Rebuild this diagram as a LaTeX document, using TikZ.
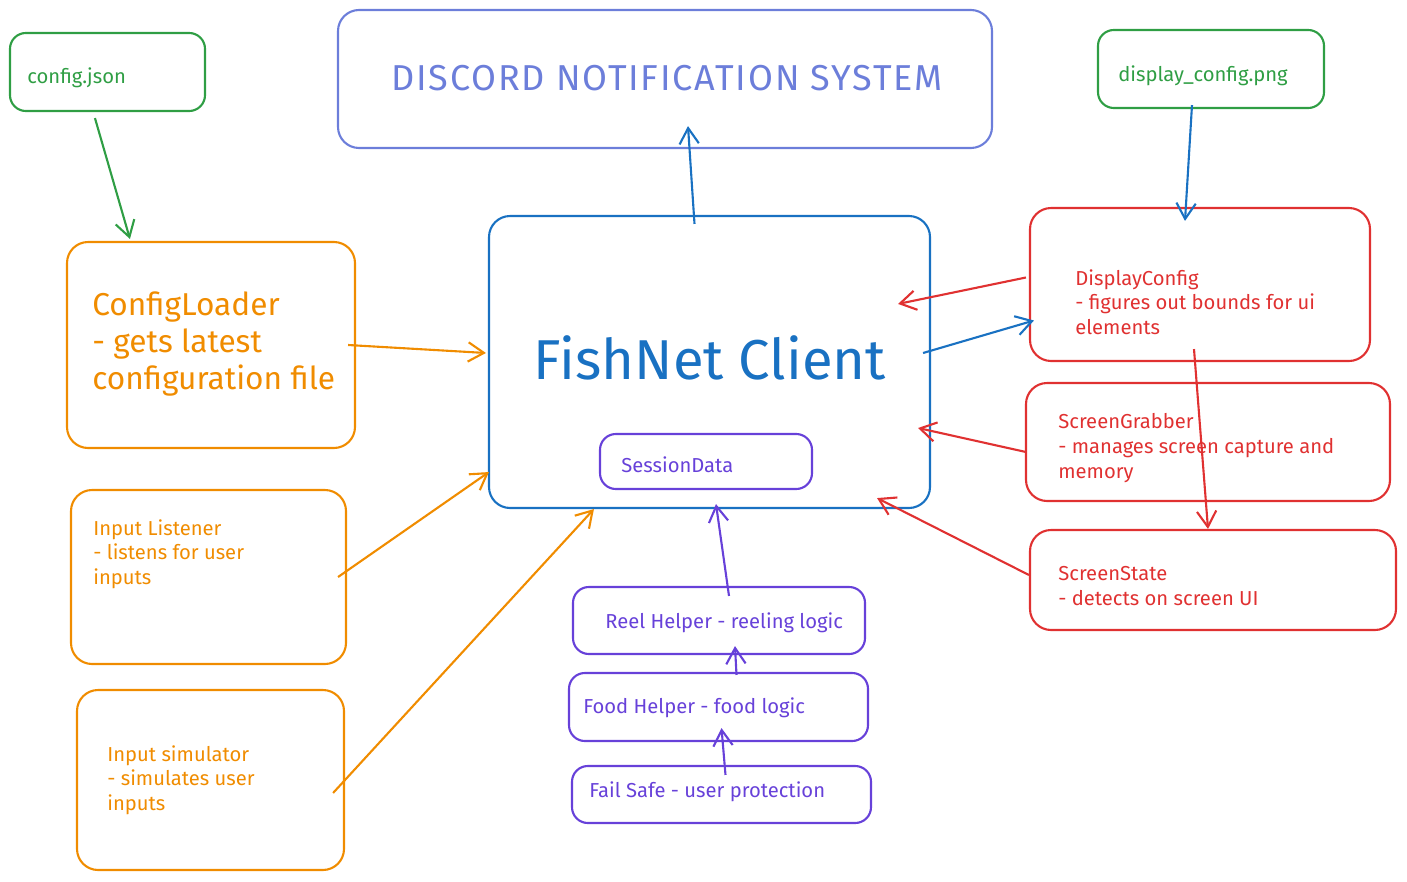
\documentclass[tikz,border=0pt]{standalone}
\usepackage{fontspec}
\setmainfont{Fira Sans}
\usetikzlibrary{fit}
\usetikzlibrary{calc}
\usetikzlibrary{arrows.meta}
\definecolor{fngreen}{RGB}{47,158,68}
\definecolor{fnorange}{RGB}{240,140,0}
\definecolor{fnblue}{RGB}{25,113,194}
\definecolor{fnred}{RGB}{224,49,49}
\definecolor{fnpurple}{RGB}{103,65,217}
\definecolor{fnindigo}{RGB}{108,126,218}
\tikzset{>={Straight Barb[length=9pt,width=11pt]}}
\tikzset{
  box/.style={draw, line width=1.2pt, rounded corners=12pt, inner sep=0pt},
  smallbox/.style={box, rounded corners=9pt},
  txt/.style={inner sep=0pt, anchor=west, align=left, font=\fontsize{11.5}{14}\selectfont},
  bigtxt/.style={txt, font=\fontsize{18}{21.3}\selectfont},
  link/.style={->, line width=1.2pt}
}

\begin{document}
\begin{tikzpicture}[x=0.02cm, y=-0.02cm]
    \useasboundingbox (0,0) rectangle (1407,882);
    % sources on top
    \node[smallbox, fngreen, fit={(10,33) (205,111)}] (cfg) {};
    \node[txt, fngreen] (cfgtxt) at (27,78) {config.json};
    \node[box, fnindigo, fit={(338,10) (992,148)}] (discord) {};
    \node[inner sep=0pt, fnindigo, font=\fontsize{20.5}{22}\selectfont\addfontfeatures{LetterSpace=5}] (discordtxt) at (667,78) {DISCORD NOTIFICATION SYSTEM};
    \node[smallbox, fngreen, fit={(1098,30) (1324,108)}] (png) {};
    \node[txt, fngreen] (pngtxt) at (1118,76) {display\_config.png};

    % client
    \node[box, fnblue, fit={(489,216) (930,508)}] (client) {};
    \node[inner sep=0pt, fnblue, font=\fontsize{32}{34}\selectfont] (clienttxt) at (710,358) {FishNet Client};
    \node[smallbox, fnpurple, fit={(600,434) (812,489)}] (session) {};
    \node[txt, fnpurple] (sessiontxt) at (621,465) {SessionData};

    % left side
    \node[box, fnorange, fit={(67,242) (355,448)}] (loader) {};
    \node[bigtxt, fnorange] (loadertxt) at (92,344) {ConfigLoader\\- gets latest\\configuration file};
    \node[box, fnorange, fit={(71,490) (346,664)}] (listener) {};
    \node[txt, fnorange] (listenertxt) at (93,554) {Input Listener\\- listens for user\\inputs};
    \node[box, fnorange, fit={(77,690) (344,870)}] (simulator) {};
    \node[txt, fnorange] (simulatortxt) at (107,780) {Input simulator\\- simulates user\\inputs};

    % right side
    \node[box, fnred, fit={(1030,208) (1370,361)}] (dispcfg) {};
    \node[txt, fnred] (dispcfgtxt) at (1075,302) {DisplayConfig\\- figures out bounds for ui\\elements};
    \node[box, fnred, fit={(1026,383) (1390,501)}] (grabber) {};
    \node[txt, fnred] (grabbertxt) at (1058,448) {ScreenGrabber\\- manages screen capture and\\memory};
    \node[box, fnred, fit={(1030,530) (1396,630)}] (state) {};
    \node[txt, fnred] (statetxt) at (1058,586) {ScreenState\\- detects on screen UI};

    % helpers below
    \node[smallbox, fnpurple, fit={(573,587) (865,654)}] (reel) {};
    \node[txt, fnpurple] (reeltxt) at (605,623) {Reel Helper - reeling logic};
    \node[smallbox, fnpurple, fit={(569,673) (868,741)}] (food) {};
    \node[txt, fnpurple] (foodtxt) at (583,708) {Food Helper - food logic};
    \node[smallbox, fnpurple, fit={(572,766) (871,823)}] (failsafe) {};
    \node[txt, fnpurple] (failsafetxt) at (589,792) {Fail Safe - user protection};

    % arrows
    \draw[link, fngreen] ($(cfg.south west)+(86,6)$) -- ($(loader.north west)+(64,-2)$);
    \draw[link, fnorange] ($(loader.east)+(-8,0)$) -- ($(client.west)+(-2,-9)$);
    \draw[link, fnorange] ($(listener.east)+(-9,0)$) -- ($(client.south west)+(1,-37)$);
    \draw[link, fnorange] ($(simulator.east)+(-12,13)$) -- ($(client.south west)+(106,0)$);
    \draw[link, fnblue] ($(client.north)+(-15,9)$) -- ($(discord.south)+(23,-23)$);
    \draw[link, fnblue] ($(png.south)+(-19,-4)$) -- ($(dispcfg.north)+(-15,14)$);
    \draw[link, fnred] ($(dispcfg.west)+(-3,-7)$) -- ($(client.north east)+(-33,89)$);
    \draw[link, fnblue] ($(client.east)+(-8,-9)$) -- ($(dispcfg.west)+(5,36)$);
    \draw[link, fnred] ($(grabber.west)+(1,10)$) -- ($(client.east)+(-13,66)$);
    \draw[link, fnred] ($(state.west)+(0,-5)$) -- ($(client.south east)+(-54,-11)$);
    \draw[link, fnred] ($(dispcfg.south)+(-6,-13)$) -- ($(state.north)+(-5,0)$);
    \draw[link, fnpurple] ($(reel.north)+(10,10)$) -- ($(session.south)+(10,14)$);
    \draw[link, fnpurple] ($(food.north)+(18,3)$) -- ($(reel.south)+(16,-9)$);
    \draw[link, fnpurple] ($(failsafe.north)+(4,10)$) -- ($(food.south)+(3,-14)$);
\end{tikzpicture}
\end{document}
